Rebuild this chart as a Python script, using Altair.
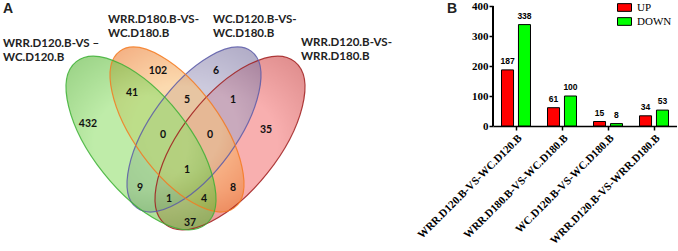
import altair as alt
import pandas as pd

# ---------------- Panel A: Venn diagram data ----------------
set_names = [
    "WRR.D120.B-VS-WC.D120.B",
    "WRR.D180.B-VS-WC.D180.B",
    "WC.D120.B-VS-WC.D180.B",
    "WRR.D120.B-VS-WRR.D180.B",
]
region_keys = ["A", "B", "C", "D", "AB", "BC", "CD", "ABC", "BCD", "ABCD",
               "AC", "BD", "ACD", "ABD", "AD"]
region_counts = [432, 102, 6, 35, 41, 5, 1, 0, 0, 1, 9, 8, 1, 4, 37]

# ---------------- Panel B: bar chart data ----------------
comparisons = [
    "WRR.D120.B-VS-WC.D120.B",
    "WRR.D180.B-VS-WC.D180.B",
    "WC.D120.B-VS-WC.D180.B",
    "WRR.D120.B-VS-WRR.D180.B",
]
series = ["UP", "DOWN"]
up_counts = [187, 61, 15, 34]
down_counts = [338, 100, 8, 53]
y_ticks = [0, 100, 200, 300, 400]

# ---------------- Layout (positions / styles) ----------------
W_A, H_A = 375, 251
region_pos = {
    "A": (88, 124), "B": (158, 71), "C": (216, 71), "D": (266, 130),
    "AB": (132, 93), "BC": (187, 100), "CD": (233, 100),
    "ABC": (163, 135), "BCD": (210, 135), "ABCD": (187, 170),
    "AC": (140, 188), "BD": (233, 188), "ACD": (169, 199), "ABD": (204, 199),
    "AD": (190, 223),
}
# draw order: red, purple, orange, green
ell_layout = [
    # set index, cx, cy, semi-major, semi-minor, angle, centre colour, edge colour, stroke
    (3, 230, 143, 104, 48, 128.5, "#f47a7a", "#cc4444", "#a01c1c"),
    (2, 194, 129.5, 97, 43, 126.1, "#aaa6c6", "#7e76a2", "#5a5aa8"),
    (1, 177, 129.5, 97, 43, 53.9, "#f9c27a", "#ec7e34", "#f47a20"),
    (0, 141, 143, 104, 48, 51.5, "#94e070", "#5cb83a", "#3cb034"),
]
label_layout = [
    # set index, x, baseline of first line, first line, second line
    (0, 3, 47, "WRR.D120.B-VS –", "WC.D120.B"),
    (1, 108, 23, "WRR.D180.B-VS-", "WC.D180.B"),
    (2, 213, 23, "WC.D120.B-VS-", "WC.D180.B"),
    (3, 301, 46, "WRR.D120.B-VS-", "WRR.D180.B"),
]


def ellipse_path(r):
    k = 0.5523
    return (f"M1,0 C1,{k*r:.4f} {k:.4f},{r:.4f} 0,{r:.4f} "
            f"C{-k:.4f},{r:.4f} -1,{k*r:.4f} -1,0 "
            f"C-1,{-k*r:.4f} {-k:.4f},{-r:.4f} 0,{-r:.4f} "
            f"C{k:.4f},{-r:.4f} 1,{-k*r:.4f} 1,0 Z")


xs = alt.Scale(domain=[0, W_A], nice=False, zero=False)
ys = alt.Scale(domain=[0, H_A], nice=False, zero=False, reverse=True)
X = alt.X("x:Q", scale=xs, axis=None)
Y = alt.Y("y:Q", scale=ys, axis=None)

ell_layers = []
stroke_rows = []
for (i, cx, cy, a, b, ang, c_in, c_out, s) in ell_layout:
    row = {"set": set_names[i], "x": cx, "y": cy, "shape": ellipse_path(b / a),
           "size": (2 * a) ** 2, "angle": ang, "stroke": s}
    stroke_rows.append(row)
    grad = alt.RadialGradient(
        gradient="radial", x1=0.5, y1=0.5, r1=0, x2=0.5, y2=0.5, r2=0.5,
        stops=[alt.GradientStop(offset=0, color=c_in),
               alt.GradientStop(offset=0.45, color=c_in),
               alt.GradientStop(offset=1, color=c_out)],
    )
    ell_layers.append(
        alt.Chart(pd.DataFrame([row])).mark_point(
            filled=True, opacity=1, fillOpacity=0.6, strokeWidth=0, fill=grad
        ).encode(
            x=X, y=Y,
            shape=alt.Shape("shape:N", scale=None),
            size=alt.Size("size:Q", scale=None),
            angle=alt.Angle("angle:Q", scale=None),
        )
    )

ell_df = pd.DataFrame(stroke_rows)
ell_stroke = alt.Chart(ell_df).mark_point(
    filled=False, opacity=1, strokeWidth=1.2, strokeOpacity=0.85
).encode(
    x=X, y=Y,
    shape=alt.Shape("shape:N", scale=None),
    size=alt.Size("size:Q", scale=None),
    angle=alt.Angle("angle:Q", scale=None),
    stroke=alt.Stroke("stroke:N", scale=None),
)

num_df = pd.DataFrame({
    "region": region_keys,
    "n": [str(v) for v in region_counts],
    "x": [region_pos[k][0] for k in region_keys],
    "y": [region_pos[k][1] for k in region_keys],
})
lab_rows = []
for (i, x, y0, l1, l2) in label_layout:
    lab_rows.append({"x": x, "y": y0, "t": l1})
    lab_rows.append({"x": x, "y": y0 + 14, "t": l2})
lab_df = pd.DataFrame(lab_rows)

nums = alt.Chart(num_df).mark_text(
    font="Lato", fontWeight="bold", fontSize=10.5, color="#111111",
    align="center", baseline="middle"
).encode(x=X, y=Y, text="n:N")
labs = alt.Chart(lab_df).mark_text(
    font="Lato", fontWeight="bold", fontSize=11.5, color="#222222",
    align="left", baseline="alphabetic"
).encode(x=X, y=Y, text="t:N")
panel_a = alt.Chart(pd.DataFrame({"x": [3], "y": [13], "t": ["A"]})).mark_text(
    font="Liberation Sans", fontWeight="bold", fontSize=14, color="#222222",
    align="left", baseline="alphabetic"
).encode(x=X, y=Y, text="t:N")

venn = alt.layer(*ell_layers, ell_stroke, nums, labs, panel_a).properties(
    width=W_A, height=H_A
)

# ---------------- Panel B ----------------
bar_df = pd.DataFrame({
    "comparison": comparisons * 2,
    "series": ["UP"] * len(comparisons) + ["DOWN"] * len(comparisons),
    "count": up_counts + down_counts,
})

x_enc = alt.X(
    "comparison:N", sort=comparisons, title=None,
    scale=alt.Scale(paddingInner=0.37, paddingOuter=0.185),
    axis=alt.Axis(labelAngle=-45, labelFont="Liberation Serif", labelFontWeight="bold",
                  labelFontSize=11, labelColor="black", tickColor="black", tickSize=4,
                  tickWidth=1.5, domainColor="black", domainWidth=1.5, labelPadding=2),
)
xo_enc = alt.XOffset("series:N", sort=series,
                     scale=alt.Scale(paddingInner=0.29, paddingOuter=0))
y_scale = alt.Scale(domain=[0, 420], nice=False)
y_axis = alt.Axis(values=y_ticks, tickCount=5, domain=False, grid=False,
                  labelFont="Liberation Serif", labelFontWeight="bold", labelFontSize=11,
                  labelColor="black", tickColor="black", tickSize=4, tickWidth=1.5,
                  labelPadding=1, labelOverlap=False)
y_enc = alt.Y("count:Q", title=None, scale=y_scale, axis=y_axis)

bars = alt.Chart(bar_df).mark_bar(stroke="black", strokeWidth=1).encode(
    x=x_enc, xOffset=xo_enc, y=y_enc,
    color=alt.Color(
        "series:N", sort=series,
        scale=alt.Scale(domain=series, range=["#ff0000", "#00ff00"]),
        legend=alt.Legend(
            title=None, orient="none", legendX=124, legendY=0, padding=0,
            symbolType="M-1,-0.55H1V0.55H-1Z", symbolSize=196,
            symbolStrokeColor="black", symbolStrokeWidth=1, symbolOpacity=1,
            labelFont="Liberation Serif", labelFontSize=11, labelColor="black",
            labelOffset=5, rowPadding=0,
        ),
    ),
)
bar_text = alt.Chart(bar_df).mark_text(
    dy=-4, baseline="bottom", font="Liberation Sans", fontWeight="bold",
    fontSize=8.5, color="black"
).encode(x=x_enc, xOffset=xo_enc, y=y_enc, text="count:Q")
y_line = alt.Chart(bar_df).mark_rule(color="black", strokeWidth=1.5).encode(
    x=alt.value(0),
    y=alt.YDatum(y_ticks[0], scale=y_scale, axis=y_axis),
    y2=alt.Y2Datum(y_ticks[-1]),
)
panel_b = alt.Chart(pd.DataFrame({"t": ["B"]})).mark_text(
    font="Liberation Sans", fontWeight="bold", fontSize=14, color="#222222",
    align="left", baseline="alphabetic"
).encode(x=alt.value(-46), y=alt.value(13), text="t:N")

bar_chart = alt.layer(bars, bar_text, y_line, panel_b).properties(width=184, height=126)

chart = alt.hconcat(venn, bar_chart, spacing=118, bounds="flush").resolve_legend(
    color="independent"
).properties(padding=0).configure_view(stroke=None)

chart.save("out.html", embed_options={"renderer": "svg", "actions": False})
